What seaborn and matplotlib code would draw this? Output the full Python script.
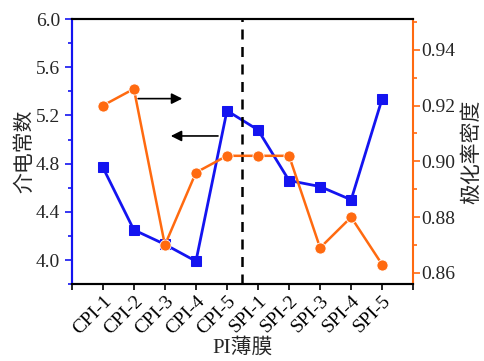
import matplotlib as mpl
mpl.use('Agg')
import matplotlib.pyplot as plt
import seaborn as sns
import pandas as pd
from matplotlib.ticker import MultipleLocator

films = ['CPI-1', 'CPI-2', 'CPI-3', 'CPI-4', 'CPI-5',
         'SPI-1', 'SPI-2', 'SPI-3', 'SPI-4', 'SPI-5']
dielectric = [4.77, 4.25, 4.13, 3.99, 5.24, 5.08, 4.66, 4.61, 4.50, 5.34]
polar = [0.920, 0.926, 0.870, 0.896, 0.902, 0.902, 0.902, 0.869, 0.880, 0.863]

blue = '#1414f0'
orange = '#ff6a10'

sns.set_theme(style="white")
plt.rcParams['font.family'] = ['Liberation Serif', 'Noto Sans CJK SC']
plt.rcParams['font.size'] = 14

df = pd.DataFrame({'pos': range(len(films)), 'k': dielectric, 'p': polar})

fig, ax = plt.subplots(figsize=(4.85, 3.61), dpi=100)
fig.subplots_adjust(left=.148, bottom=.213, right=.852, top=.947)
ax2 = ax.twinx()

sns.lineplot(x='pos', y='k', data=df, ax=ax, color=blue, linewidth=2,
             marker='s', markersize=6.5, markeredgecolor=blue)
sns.lineplot(x='pos', y='p', data=df, ax=ax2, color=orange, linewidth=1.8,
             marker='o', markersize=8, markeredgecolor='white', markeredgewidth=0.6)

ax.axvline(4.5, color='black', linestyle=(0, (4, 3)), linewidth=1.8)

ax.set_xlim(-1, 10)
ax.set_ylim(3.8, 6.0)
ax2.set_ylim(0.856, 0.951)

ax.set_xticks(range(-1, 11))
ax.set_xticklabels([''] + films + [''], rotation=45, ha='right', rotation_mode='anchor')
ax.yaxis.set_major_locator(MultipleLocator(0.4))
ax.yaxis.set_minor_locator(MultipleLocator(0.2))
ax2.yaxis.set_major_locator(MultipleLocator(0.02))
ax2.yaxis.set_minor_locator(MultipleLocator(0.01))

ax.tick_params(axis='x', direction='out', length=4, width=1.2, colors='black',
               bottom=True, labelsize=14, pad=2)
ax.tick_params(axis='y', which='both', direction='out', color=blue, width=1.2,
               left=True, labelsize=14)
ax.tick_params(axis='y', which='major', length=5)
ax.tick_params(axis='y', which='minor', length=3)
ax2.tick_params(axis='y', which='both', direction='out', color=orange, width=1.2,
                right=True, labelsize=14, pad=1)
ax2.tick_params(axis='y', which='major', length=5)
ax2.tick_params(axis='y', which='minor', length=3)

for a in (ax, ax2):
    for s in a.spines.values():
        s.set_linewidth(1.5)
        s.set_color('black')
ax2.spines['left'].set_color(blue)
ax2.spines['right'].set_color(orange)
ax.spines['left'].set_color(blue)
ax.spines['right'].set_visible(False)

ax.set_xlabel('PI薄膜', fontsize=15, labelpad=0)
ax.set_ylabel('介电常数', fontsize=15, labelpad=0)
ax2.set_ylabel('极化率密度', fontsize=15, labelpad=5)

ax.annotate('', xy=(2.65, 5.34), xytext=(1.05, 5.34),
            arrowprops=dict(arrowstyle='-|>', color='black', lw=1.2, mutation_scale=16))
ax.annotate('', xy=(2.1, 5.03), xytext=(3.8, 5.03),
            arrowprops=dict(arrowstyle='-|>', color='black', lw=1.2, mutation_scale=16))

fig.savefig('out.png', dpi=100)
